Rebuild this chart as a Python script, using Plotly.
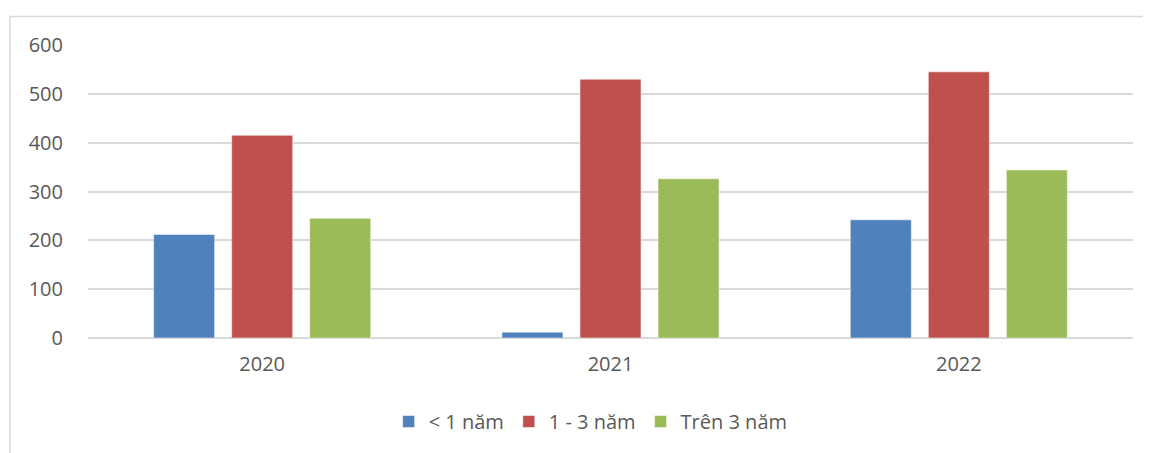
import plotly.graph_objects as go

years = ["2020", "2021", "2022"]
series_names = ["< 1 năm", "1 - 3 năm", "Trên 3 năm"]
under_1 = [212, 12, 242]
one_to_3 = [415, 530, 545]
over_3 = [245, 326, 344]
colors = ["#4F81BD", "#C0504D", "#9BBB59"]
y_ticks = [0, 100, 200, 300, 400, 500, 600]

fig = go.Figure()
for name, vals, col in zip(series_names, [under_1, one_to_3, over_3], colors):
    fig.add_trace(go.Bar(x=years, y=vals, name=name,
                         marker=dict(color=col, line=dict(color="rgba(255,255,255,0.5)", width=1))))

font = dict(family="Open Sans, DejaVu Sans", size=20, color="#595959")
# page body has an 8px margin; figure size and margins compensate for it
W, H = 1143, 445
L, R, T, B = 80, 18, 37, 111
PW, PH = W - L - R, H - T - B
fig.update_layout(
    width=W, height=H,
    margin=dict(l=L, r=R, t=T, b=B),
    paper_bgcolor="white", plot_bgcolor="white",
    barmode="group", bargap=0.328, bargroupgap=0.218,
    font=font,
    showlegend=True,
    legend=dict(orientation="h", x=0.481, xanchor="center", y=-0.285, yanchor="middle",
                font=font, itemwidth=30, traceorder="normal"),
    xaxis=dict(showgrid=False, showline=False, zeroline=False, ticks="",
               tickfont=font, ticklabelstandoff=12),
    yaxis=dict(range=[0, 600], tickvals=y_ticks, showgrid=True, gridcolor="#D9D9D9",
               gridwidth=1.5, zeroline=True, zerolinecolor="#D9D9D9", zerolinewidth=1.5,
               showline=False, ticks="", tickfont=font, ticklabelstandoff=24),
    shapes=[dict(type="rect", xref="paper", yref="paper",
                 x0=(2 - L) / PW, x1=(W + 20 - L) / PW,
                 y0=-(B + 20) / PH, y1=(PH + T - 8) / PH,
                 line=dict(color="#D9D9D9", width=1.5), layer="below")],
)
fig.write_html("out.html")
